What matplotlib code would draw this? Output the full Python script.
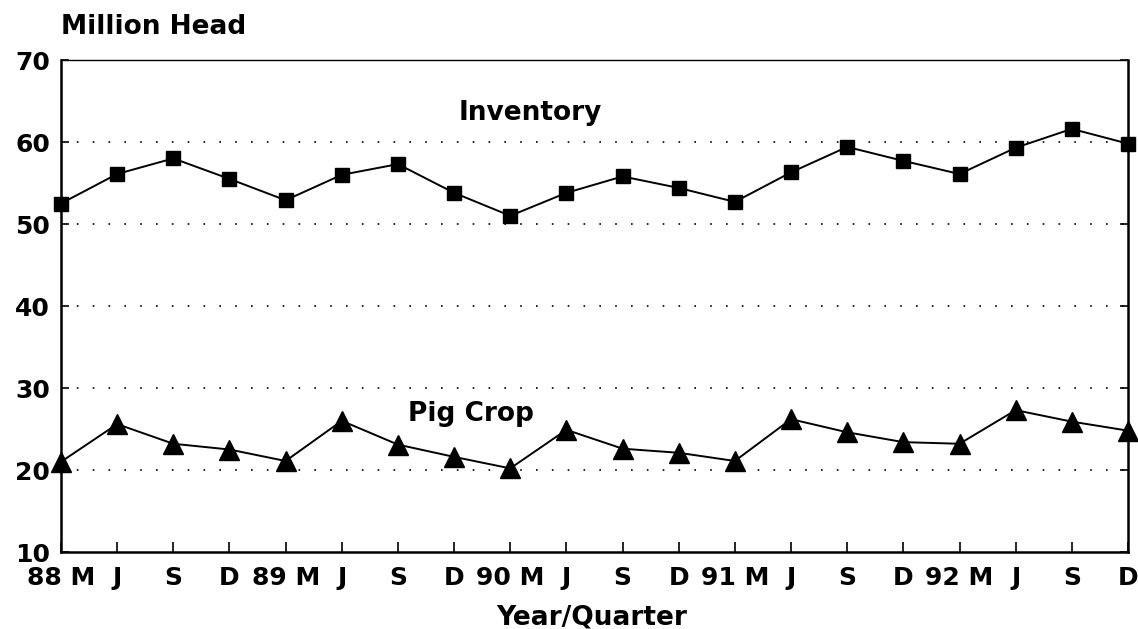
import matplotlib
matplotlib.use("Agg")
import matplotlib.pyplot as plt
import numpy as np

# quarterly points, 1988 through 1992
quarter_labels = ["88 M", "J", "S", "D", "89 M", "J", "S", "D", "90 M", "J",
                  "S", "D", "91 M", "J", "S", "D", "92 M", "J", "S", "D"]
inventory = [52.5, 56.1, 58.0, 55.5, 52.9, 56.0, 57.3, 53.8, 51.0, 53.8,
             55.8, 54.4, 52.7, 56.3, 59.4, 57.7, 56.1, 59.3, 61.6, 59.8]
pig_crop = [21.0, 25.6, 23.2, 22.5, 21.1, 26.0, 23.1, 21.6, 20.2, 24.9,
            22.6, 22.1, 21.1, 26.2, 24.6, 23.4, 23.2, 27.3, 25.9, 24.8]
y_ticks = [10, 20, 30, 40, 50, 60, 70]

plt.rcParams["font.family"] = ["DejaVu Sans"]
plt.rcParams["font.weight"] = "bold"

fig = plt.figure(figsize=(11.38, 6.29), dpi=100)
ax = fig.add_axes([0.0536, 0.1224, 0.9376, 0.7822])

x = np.arange(len(quarter_labels))

# dotted reference lines
for yv in y_ticks[1:-1]:
    ax.axhline(yv, color="black", lw=1.2, ls=(0, (1, 8.5)), zorder=1)

ax.plot(x, inventory, color="black", lw=1.4, marker="s", markersize=10.5,
        clip_on=False, zorder=3)
ax.plot(x, pig_crop, color="black", lw=1.4, marker="^", markersize=14,
        clip_on=False, zorder=3)

ax.text(8.35, 63.5, "Inventory", fontsize=19, fontweight="bold",
        ha="center", va="center")
ax.text(7.3, 26.8, "Pig Crop", fontsize=19, fontweight="bold",
        ha="center", va="center")

ax.set_xlim(0, len(quarter_labels) - 1)
ax.set_ylim(10, 70)
ax.set_xticks(x)
ax.set_xticklabels(quarter_labels, fontsize=18, fontweight="bold")
ax.set_yticks(y_ticks)
ax.set_yticklabels([str(v) for v in y_ticks], fontsize=18, fontweight="bold")
ax.tick_params(axis="x", direction="in", length=7, width=1.2, pad=10)
ax.tick_params(axis="y", direction="in", length=6, width=1.2, pad=8,
               right=True)

for side in ["left", "right", "bottom", "top"]:
    ax.spines[side].set_linewidth(1.8)
ax.spines["top"].set_linewidth(1.0)

fig.text(0.0536, 0.957, "Million Head", fontsize=19, fontweight="bold",
         ha="left", va="center")
fig.text(0.52, 0.018, "Year/Quarter", fontsize=19, fontweight="bold",
         ha="center", va="center")

fig.savefig("out.png", dpi=100)
plt.close("all")
